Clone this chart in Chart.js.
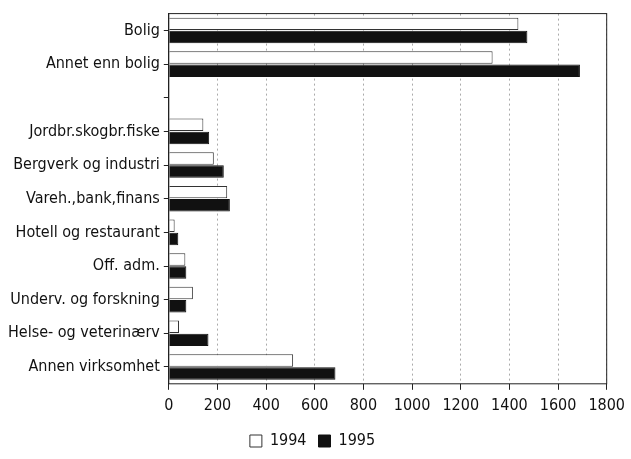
<!DOCTYPE html>
<html><head><meta charset="utf-8">
<script src="https://cdn.jsdelivr.net/npm/chart.js@4"></script>
<style>body{margin:0;background:#fff}#wrap{width:631px;height:459px}</style>
</head><body><div id="wrap"><canvas id="c"></canvas></div>
<script>
const categories = ['Bolig','Annet enn bolig','','Jordbr.skogbr.fiske','Bergverk og industri','Vareh.,bank,finans','Hotell og restaurant','Off. adm.','Underv. og forskning','Helse- og veterinærv','Annen virksomhet'];
const v1994 = [1437,1331,null,142,185,240,24,68,99,42,511];
const v1995 = [1474,1690,null,166,226,251,39,72,72,163,685];
const xTicks = [0,200,400,600,800,1000,1200,1400,1600,1800];

const font = {family:"'Liberation Sans Narrow','DejaVu Sans Condensed',sans-serif", size:16};
Chart.defaults.color = '#111';
Chart.defaults.animation = false;

const border = {
  id:'border',
  afterDraw(ch){
    const a = ch.chartArea, c = ch.ctx;
    c.save(); c.strokeStyle='#222'; c.lineWidth=1;
    c.strokeRect(a.left, a.top, a.right-a.left, a.bottom-a.top);
    c.restore();
  }
};

new Chart(document.getElementById('c'), {
  type:'bar',
  data:{labels:categories, datasets:[
    {label:'1994', data:v1994, backgroundColor:'#fff', borderColor:'#333', borderWidth:1, categoryPercentage:0.78, barPercentage:0.95},
    {label:'1995', data:v1995, backgroundColor:'#111', borderColor:'#111', borderWidth:1, categoryPercentage:0.78, barPercentage:0.95}
  ]},
  options:{
    indexAxis:'y', responsive:true, maintainAspectRatio:false,
    layout:{padding:{top:10,right:10,left:4,bottom:0}},
    scales:{
      x:{min:0,max:1800, afterBuildTicks(ax){ax.ticks = xTicks.map(v=>({value:v}));},
        grid:{color:'#aaa', drawTicks:true, tickLength:6, tickColor:'#222'},
        border:{display:false, dash:[2,3]},
        ticks:{font, padding:6, callback:v=>String(v)}},
      y:{grid:{display:true, offset:false, drawOnChartArea:false, drawTicks:true, tickLength:5, tickColor:'#222'},
        border:{color:'#222'}, ticks:{font, padding:4}}
    },
    plugins:{
      legend:{position:'bottom', labels:{font, boxWidth:12, boxHeight:12, padding:12}},
      tooltip:{enabled:false}
    }
  },
  plugins:[border]
});
</script></body></html>
